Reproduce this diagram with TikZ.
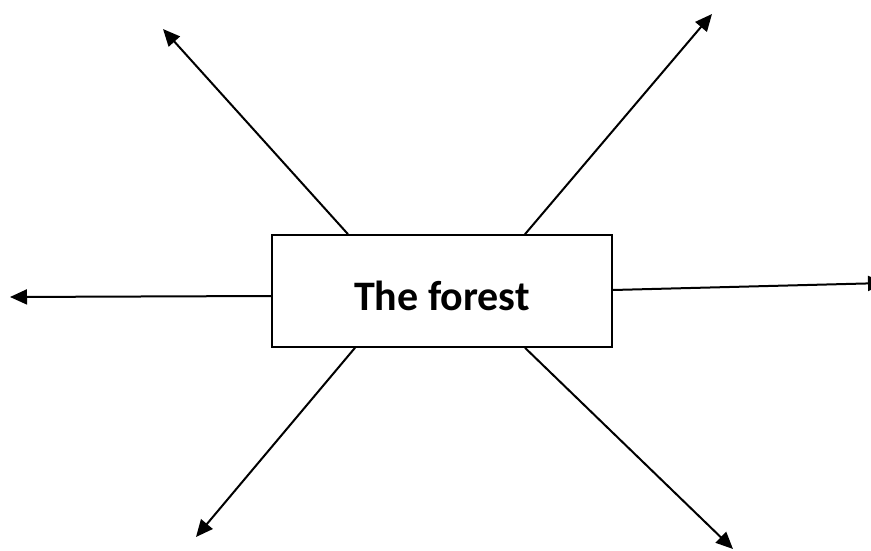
\documentclass[tikz,border=0pt]{standalone}
\usepackage{fontspec}
\setmainfont{Carlito}
\usetikzlibrary{positioning, arrows.meta}

\begin{document}
\begin{tikzpicture}[x=1pt, y=-1pt, arrow/.style={-{Triangle[length=17pt, width=15pt]}, line width=2pt}]
\useasboundingbox (0,0) rectangle (871,551);
\node[draw, rectangle, line width=1.6pt, minimum width=340pt, minimum height=112pt, text height=38pt, text depth=0pt, font=\fontsize{42}{48}\selectfont\bfseries] (forest) at (442,291) {The forest};
% free ends of the arrows
\coordinate (ul) at (163,29);
\coordinate (ur) at (712,14);
\coordinate (lf) at (10,297);
\coordinate (rt) at (885,283);
\coordinate (dl) at (196,537);
\coordinate (dr) at (733,549);
\draw[arrow] ([xshift=-94pt]forest.north) -- (ul);
\draw[arrow] ([xshift=83pt]forest.north) -- (ur);
\draw[arrow] ([yshift=-5pt]forest.west) -- (lf);
\draw[arrow] ([yshift=1pt]forest.east) -- (rt);
\draw[arrow] ([xshift=-87pt]forest.south) -- (dl);
\draw[arrow] ([xshift=83pt]forest.south) -- (dr);
\end{tikzpicture}
\end{document}
